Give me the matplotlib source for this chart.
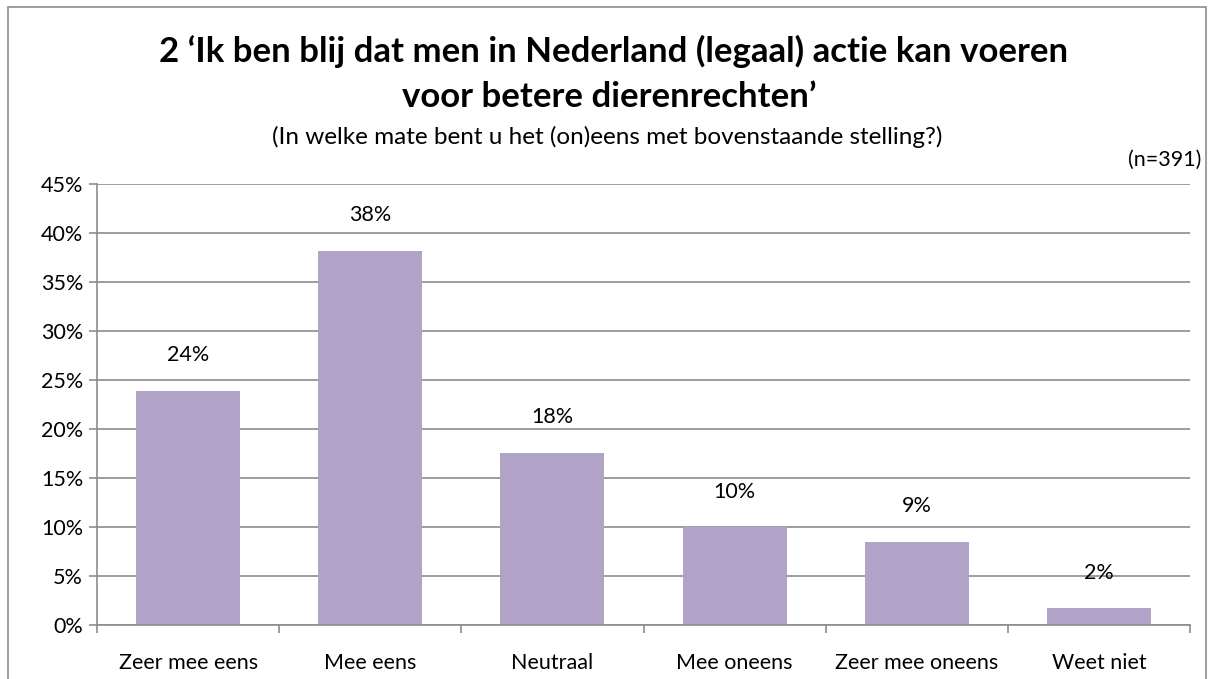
import numpy as np
import matplotlib.pyplot as plt
import matplotlib.ticker as mticker
from matplotlib.patches import Rectangle

categories = ['Zeer mee eens', 'Mee eens', 'Neutraal', 'Mee oneens', 'Zeer mee oneens', 'Weet niet']
values = [23.9, 38.2, 17.6, 10.0, 8.5, 1.7]
labels = ['24%', '38%', '18%', '10%', '9%', '2%']

plt.rcParams['font.family'] = ['Lato', 'DejaVu Sans']

fig = plt.figure(figsize=(12.14, 6.79), dpi=100)
ax = fig.add_axes([97 / 1214, 1 - 625 / 679, (1190 - 97) / 1214, (625 - 184) / 679])

x = np.arange(len(categories))
ax.bar(x, values, width=0.57, color='#b1a2c7', zorder=2)

# value labels above the bars
for xi, v, lab in zip(x, values, labels):
    ax.text(xi, v + 3.6, lab, ha='center', va='center', fontsize=15.5)

ax.set_xlim(-0.5, len(categories) - 0.5)
ax.set_ylim(0, 45)
ax.yaxis.set_major_locator(mticker.MultipleLocator(5))
ax.yaxis.set_major_formatter(mticker.FuncFormatter(lambda v, p: '%d%%' % v))
ax.grid(True, axis='y', color='#8c8c8c', linewidth=1.2, zorder=0)

# category labels centred, tick marks on the boundaries
ax.set_xticks(x)
ax.set_xticklabels(categories, fontsize=15.5)
ax.tick_params(axis='x', length=0, pad=20)
ax.set_xticks(np.arange(-0.5, len(categories)), minor=True)
ax.tick_params(axis='x', which='minor', length=6, color='#8c8c8c', width=1.2)
ax.tick_params(axis='y', length=6, color='#8c8c8c', width=1.2, labelsize=15.5, pad=4)

for side in ['top', 'right']:
    ax.spines[side].set_visible(False)
for side in ['left', 'bottom']:
    ax.spines[side].set_color('#8c8c8c')
    ax.spines[side].set_linewidth(1.2)

# Title
fig.text(0.505, 1 - 62 / 679, "2 \u2018Ik ben blij dat men in Nederland (legaal) actie kan voeren",
         ha='center', va='baseline', fontsize=25, fontweight='bold')
fig.text(0.502, 1 - 107 / 679, "voor betere dierenrechten\u2019",
         ha='center', va='baseline', fontsize=25, fontweight='bold')
fig.text(0.5, 1 - 137 / 679, '(In welke mate bent u het (on)eens met bovenstaande stelling?)',
         ha='center', va='center', fontsize=17.5)
fig.text(1201 / 1214, 1 - 160 / 679, '(n=391)', ha='right', va='center', fontsize=15.5)

# Chart frame
fig.patches.append(Rectangle((8 / 1214, -0.05), 1198 / 1214, 1 - 7 / 679 + 0.05,
                             transform=fig.transFigure, fill=False, edgecolor='#8c8c8c',
                             linewidth=1.2))

fig.savefig('out.png', dpi=100)
